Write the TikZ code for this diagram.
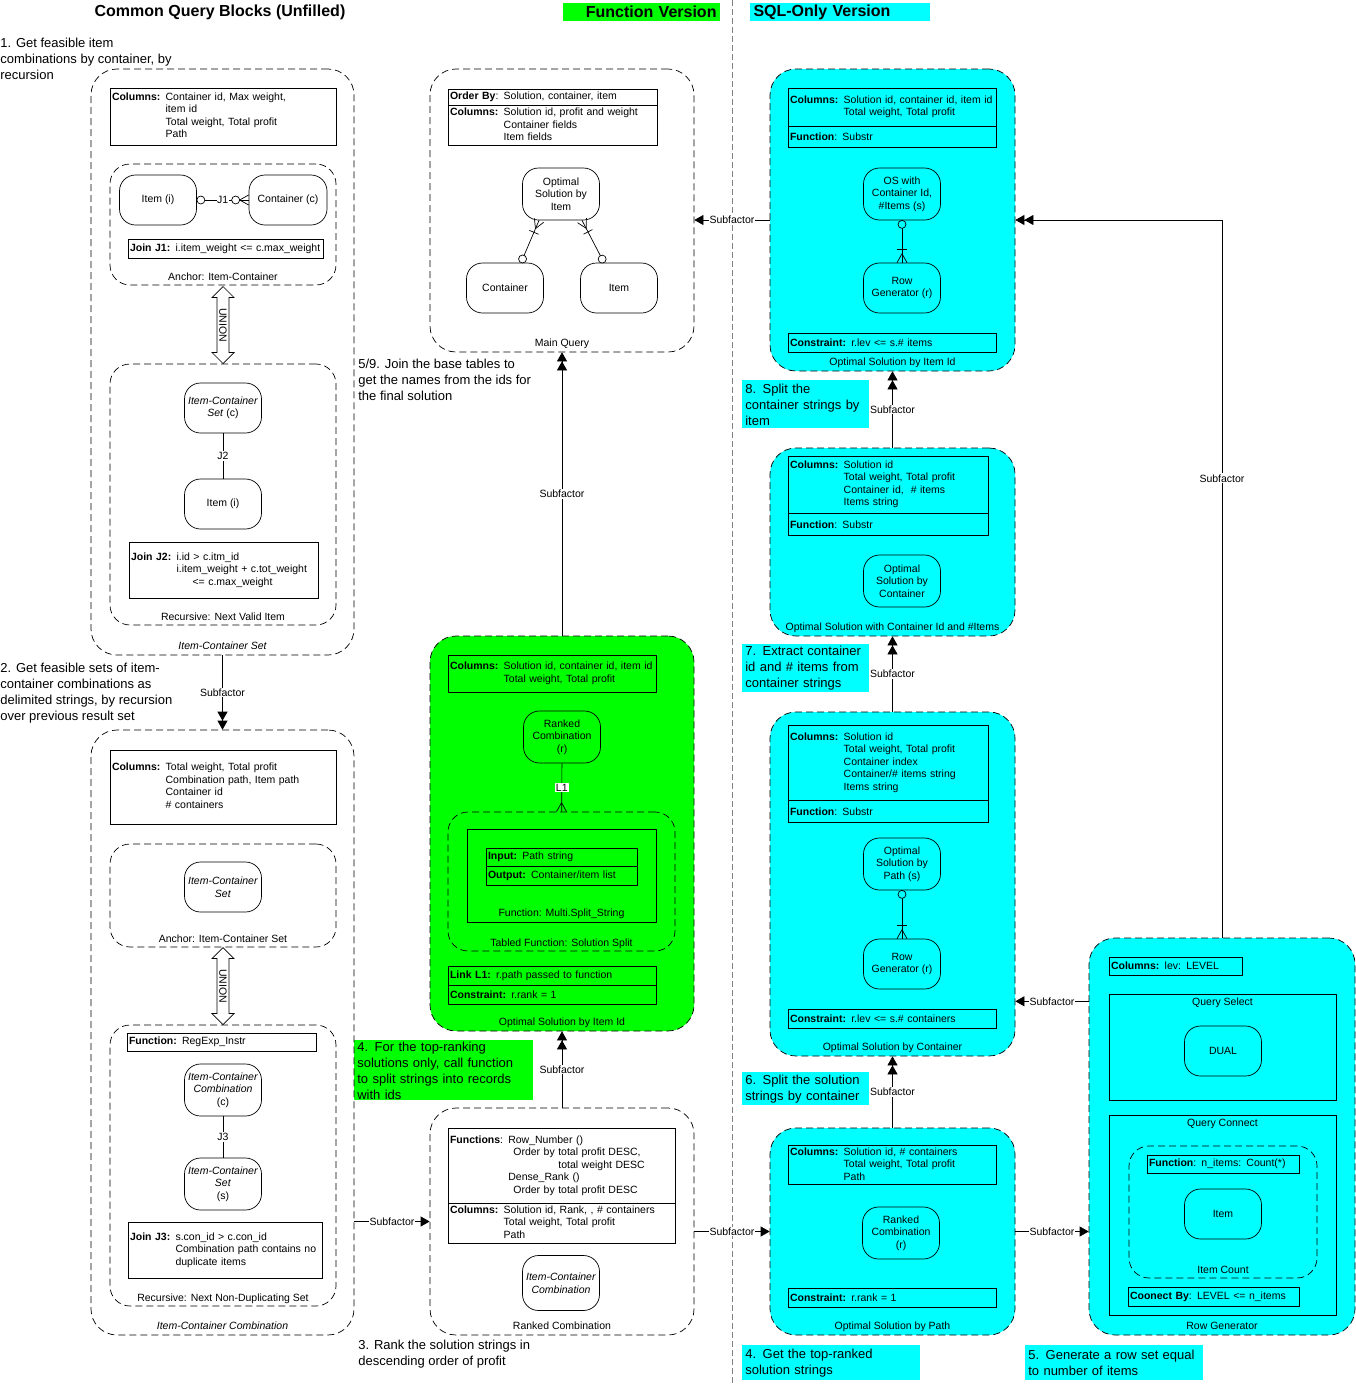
\documentclass[tikz,border=0pt]{standalone}
\usepackage{fontspec}
\setmainfont{Liberation Sans}
\usetikzlibrary{positioning,calc,arrows.meta,shapes.arrows}

\definecolor{aqua}{RGB}{0,255,255}
\definecolor{lime}{RGB}{0,255,0}
\newcommand\nfont{\fontsize{10.5pt}{12.5pt}\selectfont}
\newcommand\annfont{\fontsize{13pt}{16pt}\selectfont}
\newcommand\hdfont{\fontsize{16pt}{19pt}\selectfont\bfseries}
\newcommand\cols[2]{\begin{tabular}{@{}l@{ }l@{}}\textbf{#1} & #2\end{tabular}}
\newcommand\ringat[4]{\draw[fill=#4] ($(#1)!#3!(#2)$) circle (4pt);}
\newcommand\manyend[2]{\draw ($(#1)!9pt!(#2)$) -- ($(#1)!5pt!90:(#2)$)
  ($(#1)!9pt!(#2)$) -- ($(#1)!5pt!-90:(#2)$);}
\newcommand\oneend[2]{\draw ($(#1)!13pt!(#2)!5pt!90:(#2)$) -- ($(#1)!13pt!(#2)!5pt!-90:(#2)$);}

\tikzset{
  blk/.style={draw, dash pattern=on 7pt off 4pt, rounded corners=26pt},
  sub/.style={draw, dash pattern=on 7pt off 4pt, rounded corners=20pt},
  ent/.style={draw, rounded corners=16pt, minimum width=77pt, minimum height=50pt, align=center, inner sep=1pt},
  box/.style={draw, inner xsep=2pt, inner ysep=1pt, align=left},
  captxt/.style={inner sep=0pt, text height=8pt, text depth=2.5pt},
  lbl/.style={fill=white, inner sep=1pt},
  note/.style={anchor=north west, align=left, font=\annfont, inner sep=0pt},
  notebox/.style={note, inner xsep=3pt, inner ysep=2pt},
  one/.style={-{Triangle[length=9pt,width=10pt]}},
  two/.style={-{Triangle[length=9pt,width=10pt]Triangle[length=9pt,width=10pt]}},
  union/.style={draw, fill=white, double arrow, double arrow head extend=5pt, minimum height=77pt, inner sep=2pt, rotate=-90}
}

\begin{document}
\begin{tikzpicture}[x=1pt,y=-1pt,font=\nfont,line width=0.7pt]
\useasboundingbox (0,0) rectangle (1356,1384);
\draw[gray, dash pattern=on 6pt off 3pt] (732,0) -- (732,1384);

\node[font=\hdfont] (hcommon) at (220,12) {Common Query Blocks (Unfilled)};
\node[fill=lime, font=\hdfont, text width=150pt, align=right, inner ysep=1pt, minimum height=18pt] (hfunc) at (641.5,12) {Function Version};
\node[fill=aqua, font=\hdfont, text width=173pt, align=left, inner ysep=1pt, minimum height=18pt] (hsql) at (840,12) {SQL-Only Version};

\node[note] (n1) at (0,38) {1. Get feasible item\\combinations by container, by\\recursion};
\node[note] (n2) at (0,663) {2. Get feasible sets of item-\\container combinations as\\delimited strings, by recursion\\over previous result set};
\node[note] (n59) at (358,359) {5/9. Join the base tables to\\get the names from the ids for\\the final solution};
\node[note] (n3) at (358,1340) {3. Rank the solution strings in\\descending order of profit};
\node[notebox, fill=lime, text width=173pt, minimum height=60pt, inner ysep=1pt] (n4g) at (354,1040) {4. For the top-ranking\\solutions only, call function\\to split strings into records\\with ids};
\node[notebox, fill=aqua, text width=121pt, minimum height=48pt] (n8) at (742,380) {8. Split the\\container strings by\\item};
\node[notebox, fill=aqua, text width=121pt, minimum height=48pt] (n7) at (742,644) {7. Extract container\\id and \# items from\\container strings};
\node[notebox, fill=aqua, text width=121pt, minimum height=33pt] (n6) at (742,1072) {6. Split the solution\\strings by container};
\node[notebox, fill=aqua, text width=172pt, minimum height=35pt] (n4c) at (742,1345) {4. Get the top-ranked\\solution strings};
\node[notebox, fill=aqua, text width=172pt, minimum height=35pt] (n5c) at (1025,1345) {5. Generate a row set equal\\to number of items};

\node[blk, minimum width=263pt, minimum height=586pt] (ics) at (222.5,362) {};
\node[captxt, above=3pt of ics.south, font=\nfont\itshape] (icsl) {Item-Container Set};
\node[box, text width=222pt, minimum height=57pt] (icscol) at (223,116.5) {\cols{Columns:}{Container id, Max weight,\\ & item id\\ & Total weight, Total profit\\ & Path}};
\node[sub, minimum width=226pt, minimum height=121pt] (anc1) at (223,224.5) {};
\node[captxt, above=2pt of anc1.south] (anc1l) {Anchor: Item-Container};
\node[ent] (item1) at (158,200) {Item (i)};
\node[ent, minimum width=78pt] (cont1) at (288,200) {Container (c)};
\draw (item1) -- node[lbl, inner sep=0.5pt] {J1} (cont1);
\ringat{item1.east}{cont1.west}{4pt}{white}
\ringat{cont1.west}{item1.east}{13pt}{white}
\manyend{cont1.west}{item1.east}
\node[box, text width=191pt, minimum height=19pt] (join1) at (225.5,248.5) {\textbf{Join J1:} i.item\_weight <= c.max\_weight};
\node[union] (un1) at (223,325) {UNION};
\node[sub, minimum width=226pt, minimum height=261pt] (rec1) at (223,494.5) {};
\node[captxt, above=2pt of rec1.south] (rec1l) {Recursive: Next Valid Item};
\node[ent] (ics2) at (223,408) {\textit{Item-Container}\\\textit{Set} (c)};
\node[ent] (item2) at (223,504) {Item (i)};
\draw (ics2) -- node[lbl] {J2} (item2);
\node[box, text width=185pt, minimum height=56pt] (join2) at (223.5,570) {\cols{Join J2:}{i.id > c.itm\_id\\ & i.item\_weight + c.tot\_weight\\ & \hspace{16pt}<= c.max\_weight}};

\node[blk, minimum width=263pt, minimum height=605pt] (icc) at (222.5,1032.5) {};
\node[captxt, above=3pt of icc.south, font=\nfont\itshape] (iccl) {Item-Container Combination};
\node[box, text width=222pt, minimum height=74pt] (icccol) at (223,787) {\cols{Columns:}{Total weight, Total profit\\ & Combination path, Item path\\ & Container id\\ & \# containers}};
\node[sub, minimum width=226pt, minimum height=103pt] (anc2) at (223,895.5) {};
\node[captxt, above=2pt of anc2.south] (anc2l) {Anchor: Item-Container Set};
\node[ent] (ics3) at (223,887) {\textit{Item-Container}\\\textit{Set}};
\node[union] (un2) at (223,986) {UNION};
\node[sub, minimum width=226pt, minimum height=281pt] (rec2) at (223,1165.5) {};
\node[captxt, above=2pt of rec2.south] (rec2l) {Recursive: Next Non-Duplicating Set};
\node[box, text width=185pt, minimum height=18pt] (fun1) at (221.5,1042) {\textbf{Function:} RegExp\_Instr};
\node[ent, minimum height=52pt] (icc2) at (223,1090) {\textit{Item-Container}\\\textit{Combination}\\(c)};
\node[ent, minimum height=52pt] (ics4) at (223,1184) {\textit{Item-Container}\\\textit{Set}\\(s)};
\draw (icc2) -- node[lbl] {J3} (ics4);
\node[box, text width=190pt, minimum height=56pt] (join3) at (225,1250) {\cols{Join J3:}{s.con\_id > c.con\_id\\ & Combination path contains no\\ & duplicate items}};

\node[blk, minimum width=264pt, minimum height=283pt] (mq) at (562,210.5) {};
\node[captxt, above=3pt of mq.south] (mql) {Main Query};
\node[box, text width=205pt, minimum height=16pt] (mqord) at (552.5,97) {\textbf{Order By}: Solution, container, item};
\node[box, text width=205pt, minimum height=40pt, below=0pt of mqord] (mqcol) {\cols{Columns:}{Solution id, profit and weight\\ & Container fields\\ & Item fields}};
\node[ent, minimum height=52pt] (osi) at (561,194) {Optimal\\Solution by\\Item};
\node[ent] (ct) at (505,288) {Container};
\node[ent] (it) at (619,288) {Item};
\coordinate (osi1) at ($(osi.south)+(-22,0)$);
\coordinate (osi2) at ($(osi.south)+(21,0)$);
\coordinate (ct1) at ($(ct.north)+(16,0)$);
\coordinate (it1) at ($(it.north)+(-15,0)$);
\draw (osi1) -- (ct1);
\draw (osi2) -- (it1);
\manyend{osi1}{ct1}\oneend{osi1}{ct1}\ringat{ct1}{osi1}{4pt}{white}
\manyend{osi2}{it1}\oneend{osi2}{it1}\ringat{it1}{osi2}{4pt}{white}

\node[blk, fill=lime, minimum width=264pt, minimum height=395pt] (osg) at (562,833.5) {};
\node[captxt, above=3pt of osg.south] (osgl) {Optimal Solution by Item Id};
\node[box, text width=204pt, minimum height=37pt] (osgcol) at (552,673.5) {\cols{Columns:}{Solution id, container id, item id\\ & Total weight, Total profit}};
\node[ent, minimum height=52pt] (rcr1) at (562,737) {Ranked\\Combination\\(r)};
\node[sub, minimum width=227pt, minimum height=139pt] (tfn) at (561.5,881.5) {};
\node[captxt, above=2pt of tfn.south] (tfnl) {Tabled Function: Solution Split};
\node[draw, minimum width=189pt, minimum height=93pt] (mss) at (561.5,875.5) {};
\node[captxt, above=3pt of mss.south] (mssl) {Function: Multi.Split\_String};
\node[box, text width=147pt, minimum height=18pt] (inp) at (561.5,857) {\textbf{Input:} Path string};
\node[box, text width=147pt, minimum height=19pt, below=0pt of inp] (outp) {\textbf{Output:} Container/item list};
\node[box, text width=204pt, minimum height=19pt] (lnk) at (552,975.5) {\textbf{Link L1:} r.path passed to function};
\node[box, text width=204pt, minimum height=19pt, below=0pt of lnk] (cns1) {\textbf{Constraint:} r.rank = 1};
\draw (rcr1) -- node[lbl] {L1} (tfn);
\manyend{tfn.north}{rcr1.south}

\node[blk, minimum width=264pt, minimum height=227pt] (rc) at (562,1221.5) {};
\node[captxt, above=3pt of rc.south] (rcl) {Ranked Combination};
\node[box, text width=223pt, minimum height=75pt] (rcfn) at (561.5,1165.5) {\begin{tabular}{@{}l@{ }l@{}}\textbf{Functions}: & Row\_Number ()\\ & \hspace{5pt}Order by total profit DESC,\\ & \hspace{50pt}total weight DESC\\ & Dense\_Rank ()\\ & \hspace{5pt}Order by total profit DESC\end{tabular}};
\node[box, text width=223pt, minimum height=37pt, below=0pt of rcfn] (rccol) {\cols{Columns:}{Solution id, Rank, , \# containers\\ & Total weight, Total profit\\ & Path}};
\node[ent, minimum height=55pt] (icc3) at (561,1283) {\textit{Item-Container}\\\textit{Combination}};

\node[blk, fill=aqua, minimum width=245pt, minimum height=302pt] (osii) at (892.5,220) {};
\node[captxt, above=3pt of osii.south] (osiil) {Optimal Solution by Item Id};
\node[box, text width=204pt, minimum height=38pt] (osiicol) at (892,107) {\cols{Columns:}{Solution id, container id, item id\\ & Total weight, Total profit}};
\node[box, text width=204pt, minimum height=21pt, below=0pt of osiicol] (osiifn) {\textbf{Function}: Substr};
\node[ent, minimum height=52pt] (osw) at (902,194) {OS with\\Container Id,\\\#Items (s)};
\node[ent] (rg1) at (902,288) {Row\\Generator (r)};
\draw (osw) -- (rg1);
\ringat{osw.south}{rg1.north}{4pt}{aqua}\manyend{rg1.north}{osw.south}\oneend{rg1.north}{osw.south}
\node[box, text width=204pt, minimum height=19pt] (osiicns) at (892,342.5) {\textbf{Constraint:} r.lev <= s.\# items};

\node[blk, fill=aqua, minimum width=245pt, minimum height=188pt] (oswc) at (892.5,542) {};
\node[captxt, above=3pt of oswc.south] (oswcl) {Optimal Solution with Container Id and \#Items};
\node[box, text width=196pt, minimum height=57pt] (oswccol) at (888,484.5) {\cols{Columns:}{Solution id\\ & Total weight, Total profit\\ & Container id,~ \# items\\ & Items string}};
\node[box, text width=196pt, minimum height=22pt, below=0pt of oswccol] (oswcfn) {\textbf{Function}: Substr};
\node[ent, minimum height=52pt] (osc1) at (902,581) {Optimal\\Solution by\\Container};

\node[blk, fill=aqua, minimum width=245pt, minimum height=344pt] (osc) at (892.5,884) {};
\node[captxt, above=3pt of osc.south] (oscl) {Optimal Solution by Container};
\node[box, text width=196pt, minimum height=75pt] (osccol) at (888,762.5) {\cols{Columns:}{Solution id\\ & Total weight, Total profit\\ & Container index\\ & Container/\# items string\\ & Items string}};
\node[box, text width=196pt, minimum height=22pt, below=0pt of osccol] (oscfn) {\textbf{Function}: Substr};
\node[ent, minimum height=52pt] (osp1) at (902,864) {Optimal\\Solution by\\Path (s)};
\node[ent] (rg2) at (902,964) {Row\\Generator (r)};
\draw (osp1) -- (rg2);
\ringat{osp1.south}{rg2.north}{4pt}{aqua}\manyend{rg2.north}{osp1.south}\oneend{rg2.north}{osp1.south}
\node[box, text width=204pt, minimum height=19pt] (osccns) at (892,1018.5) {\textbf{Constraint:} r.lev <= s.\# containers};

\node[blk, fill=aqua, minimum width=245pt, minimum height=207pt] (osp) at (892.5,1231.5) {};
\node[captxt, above=3pt of osp.south] (ospl) {Optimal Solution by Path};
\node[box, text width=204pt, minimum height=38pt] (ospcol) at (892,1165) {\cols{Columns:}{Solution id, \# containers\\ & Total weight, Total profit\\ & Path}};
\node[ent, minimum height=52pt] (rcr2) at (901,1233) {Ranked\\Combination\\(r)};
\node[box, text width=204pt, minimum height=19pt] (ospcns) at (892,1297.5) {\textbf{Constraint:} r.rank = 1};

\node[blk, fill=aqua, minimum width=266pt, minimum height=397pt] (rg) at (1222,1136.5) {};
\node[captxt, above=3pt of rg.south] (rgl) {Row Generator};
\node[box, text width=129pt, minimum height=18pt] (rgcol) at (1175.5,966) {\textbf{Columns:} lev: LEVEL};
\node[draw, minimum width=227pt, minimum height=106pt] (qsel) at (1222.5,1047) {};
\node[captxt, below=3pt of qsel.north] (qsell) {Query Select};
\node[ent] (dual) at (1223,1051) {DUAL};
\node[draw, minimum width=227pt, minimum height=200pt] (qcon) at (1222.5,1215) {};
\node[captxt, below=3pt of qcon.north] (qconl) {Query Connect};
\node[sub, minimum width=188pt, minimum height=132pt] (icnt) at (1223,1212) {};
\node[captxt, above=2pt of icnt.south] (icntl) {Item Count};
\node[box, text width=148pt, minimum height=18pt] (icntfn) at (1223,1164) {\textbf{Function}: n\_items: Count(*)};
\node[ent] (item3) at (1223,1214) {Item};
\node[box, text width=167pt, minimum height=19pt] (cby) at (1213.5,1296.5) {\textbf{Coonect By}: LEVEL <= n\_items};

\draw[two] (ics) -- node[lbl] {Subfactor} (icc);
\draw[one] (icc.east |- rc.west) -- node[lbl] {Subfactor} (rc.west);
\draw[two] (rc) -- node[lbl] {Subfactor} (osg);
\draw[two] (osg) -- node[lbl] {Subfactor} (mq);
\draw[one] (osii.west) -- node[lbl] {Subfactor} (osii.west -| mq.east);
\draw[one] (rc.east |- osp.west) -- node[lbl] {Subfactor} (osp.west);
\draw[two] (osp) -- node[lbl] {Subfactor} (osc);
\draw[two] (osc) -- node[lbl] {Subfactor} (oswc);
\draw[two] (oswc) -- node[lbl] {Subfactor} (osii);
\draw[one] (osp.east) -- node[lbl] {Subfactor} (osp.east -| rg.west);
\coordinate (rgout) at ($(rg.north west)!0.16!(rg.south west)$);
\draw[one] (rgout) -- node[lbl] {Subfactor} (rgout -| osc.east);
\draw[two] (rg.north) |- node[lbl, pos=0.32] {Subfactor} (osii.east);
\end{tikzpicture}
\end{document}
